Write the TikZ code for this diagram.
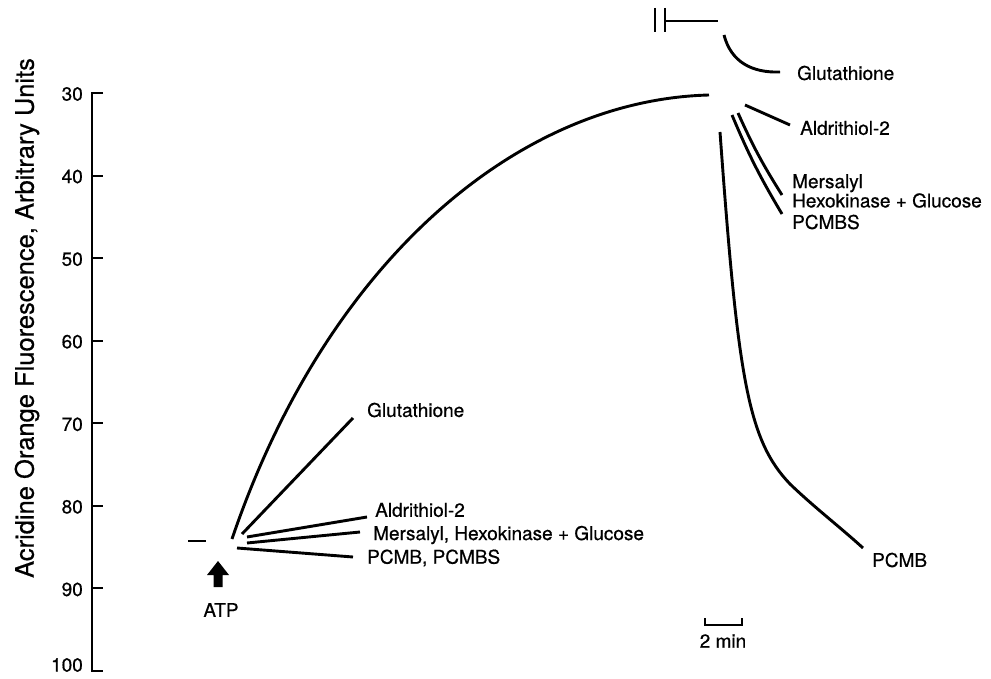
\documentclass[tikz,border=0pt]{standalone}
\usepackage{fontspec}
\setmainfont{TeX Gyre Heros}[FakeBold=0.6]
\begin{document}
\begin{tikzpicture}[x=1pt, y=-1pt,
    trace/.style={line width=2.9pt},
    axisline/.style={line width=1.9pt},
    lbl/.style={inner sep=0pt, anchor=west, font=\fontsize{19}{15}\selectfont}]
\useasboundingbox (0,0) rectangle (991,679);

% Draw axis
\draw[axisline] (103,93) -- (91.7,93) -- (91.7,671) -- (103,671);
\foreach \v in {40,50,...,90} {
    \pgfmathsetmacro{\py}{93+(\v-30)*8.257}
    \draw[axisline] (91.7,\py) -- (103,\py);
}
\foreach \v in {30,40,...,90} {
    \pgfmathsetmacro{\py}{93+(\v-30)*8.257}
    \node[lbl, anchor=east] (tick\v) at (83,\py+1) {\v};
}
\node[lbl, anchor=east] (tick100) at (83,665) {100};
\node[inner sep=0pt, rotate=90, font=\fontsize{25.5}{28}\selectfont] (ytitle) at (27,318)
    {Acridine Orange Fluorescence, Arbitrary Units};

% Baseline and ATP addition
\draw[trace] (188,541) -- (206,541);
\fill (218,561) -- (229,575) -- (222.5,575) -- (222.5,587) -- (213.5,587) -- (213.5,575) -- (207,575) -- cycle;
\node[lbl, anchor=center] (atp) at (221,610) {ATP};

% Main trace
\draw[trace] (232,539) .. controls (325,265) and (515,100) .. (709,95);

% Traces after ATP
\draw[trace] (242,534) -- (353,418);
\draw[trace] (247,537) -- (367,517);
\draw[trace] (247,543) -- (360,532);
\draw[trace] (237,548) -- (353,557);
\node[lbl] (glut1) at (367,410) {Glutathione};
\node[lbl] (ald1) at (375,510) {Aldrithiol-2};
\node[lbl] (mer1) at (373,535) {Mersalyl, Hexokinase + Glucose};
\node[lbl] (pcmb1) at (367,558) {PCMB, PCMBS};

% Break in time axis
\draw[trace] (655,8) -- (655,32);
\draw[trace] (665,8) -- (665,32);
\draw[axisline] (665,21) -- (718,21);

% Traces after reagents
\draw[trace] (724,35) .. controls (731,62) and (752,73) .. (780,72);
\draw[trace] (745,105) -- (790,125);
\draw[trace] (738,113) to[bend right=4] (782,195);
\draw[trace] (732,115) to[bend right=4] (782,214);
\draw[trace] (720,132) .. controls (738,380) and (748,440) .. (790,484)
    .. controls (815,508) and (840,527) .. (863,548);
\node[lbl] (glut2) at (797,73) {Glutathione};
\node[lbl] (ald2) at (800,128) {Aldrithiol-2};
\node[lbl, align=left] (mer2) at (792,191) {Mersalyl\\Hexokinase + Glucose};
\node[lbl] (pcmbs2) at (792,222) {PCMBS};
\node[lbl] (pcmb2) at (872,560) {PCMB};

% Time scale
\draw[axisline] (705,618) -- (705,625) -- (742,625) -- (742,618);
\node[lbl, anchor=center] (tscale) at (723,641) {2 min};
\end{tikzpicture}
\end{document}
